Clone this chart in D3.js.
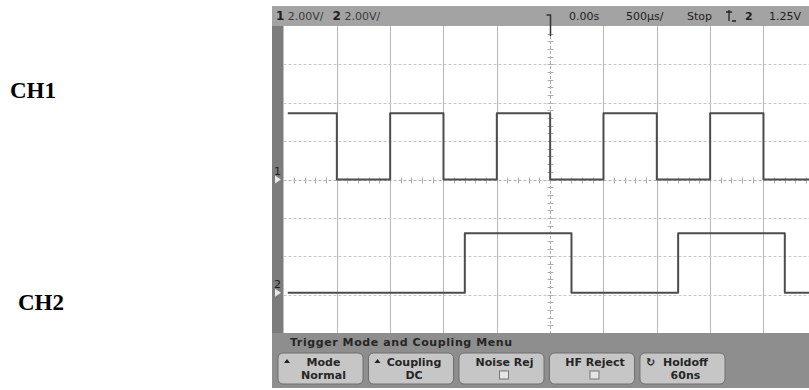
<!DOCTYPE html>
<meta charset="utf-8" />
<title>Trigger Mode and Coupling</title>
<style>
  body { margin: 0; background: #fff; }
  svg { display: block; }
  .chlabel { font-family: "Liberation Serif", serif; font-weight: bold; font-size: 23px; fill: #000; }
  .scope { font-family: "DejaVu Sans", sans-serif; font-size: 11px; fill: #1e1e1e; }
  .btn { font-family: "DejaVu Sans", sans-serif; font-size: 11px; font-weight: bold; fill: #262626; }
  .grid-v { stroke: #b8b8b8; stroke-width: 1; }
  .grid-h { stroke: #c8c8c8; stroke-width: 1; stroke-dasharray: 3,2; }
  .trace { fill: none; stroke: #4c4c4c; stroke-width: 2; stroke-linejoin: round; }
</style>

<body>
  <svg width="809" height="390"></svg>

  <script src="https://d3js.org/d3.v7.min.js"></script>
  <script>
    const svg = d3.select("svg");

    // waveform data, time in ms (500us/div), volts (2V/div)
    const ch1Times = [-2.46, -2.0, -1.5, -1.0, -0.5, 0.0, 0.5, 1.0, 1.5, 2.0, 2.5];
    const ch1Volts = [3.45, 0, 3.45, 0, 3.45, 0, 3.45, 0, 3.45, 0];
    const ch2Times = [-2.46, -0.8, 0.2, 1.2, 2.2, 2.5];
    const ch2Volts = [0, 3.1, 0, 3.1, 0];

    // channel ground offsets in divisions
    const channels = [
      { name: "CH1", times: ch1Times, volts: ch1Volts, offset: 0.0 },
      { name: "CH2", times: ch2Times, volts: ch2Volts, offset: -2.95 }
    ];
    const voltsPerDiv = 2;

    const statusLeft = [["1", " 2.00V/"], ["2", " 2.00V/"]];
    const menuTitle = "Trigger Mode and Coupling Menu";
    const buttons = [
      { top: "Mode", bottom: "Normal", icon: "up" },
      { top: "Coupling", bottom: "DC", icon: "up" },
      { top: "Noise Rej", bottom: "", icon: "box" },
      { top: "HF Reject", bottom: "", icon: "box" },
      { top: "Holdoff", bottom: "60ns", icon: "cycle" }
    ];

    // screen geometry
    const gl = 283.5, gt = 26, divW = 53.33, divH = 38.375;
    const x = d3.scaleLinear().domain([-2.5, 2.5]).range([gl, gl + 10 * divW]);
    const y = d3.scaleLinear().domain([-4, 4]).range([gt + 8 * divH, gt]);

    // outer labels
    svg.append("text").attr("class", "chlabel").attr("x", 10).attr("y", 98).text("CH1");
    svg.append("text").attr("class", "chlabel").attr("x", 18).attr("y", 310).text("CH2");

    // bezel pieces
    svg.append("rect").attr("x", 272).attr("y", 6).attr("width", 540).attr("height", 20).attr("fill", "#a3a3a3");
    svg.append("rect").attr("x", 272).attr("y", 26).attr("width", 12).attr("height", 307).attr("fill", "#7c7c7c");
    svg.append("rect").attr("x", 272).attr("y", 333).attr("width", 540).attr("height", 55).attr("fill", "#8e8e8e");
    svg.append("rect").attr("x", gl).attr("y", gt).attr("width", 10 * divW).attr("height", 8 * divH).attr("fill", "#fff");

    // grid
    const grid = svg.append("g");
    grid.selectAll("line.grid-v")
      .data(x.ticks(10).filter(d => d > -2.5 && d < 2.5 && d !== 0))
      .enter().append("line")
      .attr("class", "grid-v")
      .attr("x1", d => Math.round(x(d)) + 0.5).attr("x2", d => Math.round(x(d)) + 0.5)
      .attr("y1", gt).attr("y2", gt + 8 * divH);
    grid.selectAll("line.grid-h")
      .data(y.ticks(8).filter(d => d > -4 && d < 4 && d !== 0))
      .enter().append("line")
      .attr("class", "grid-h")
      .attr("x1", gl).attr("x2", 809)
      .attr("y1", d => Math.round(y(d)) + 0.5).attr("y2", d => Math.round(y(d)) + 0.5);

    // centre axes with minor ticks
    const cx = Math.round(x(0)) + 0.5, cy = Math.round(y(0)) + 0.5;
    grid.append("line").attr("x1", cx).attr("x2", cx).attr("y1", gt).attr("y2", gt + 8 * divH)
      .attr("stroke", "#b0b0b0").attr("stroke-dasharray", "3,2");
    grid.append("line").attr("x1", gl).attr("x2", 809).attr("y1", cy).attr("y2", cy)
      .attr("stroke", "#b0b0b0").attr("stroke-dasharray", "3,2");
    grid.selectAll("line.mx")
      .data(x.ticks(50).filter(d => Math.abs(d) < 2.5))
      .enter().append("line")
      .attr("x1", d => Math.round(x(d)) + 0.5).attr("x2", d => Math.round(x(d)) + 0.5)
      .attr("y1", cy - 3).attr("y2", cy + 3)
      .attr("stroke", "#b0b0b0");
    grid.selectAll("line.my")
      .data(y.ticks(40).filter(d => Math.abs(d) < 4))
      .enter().append("line")
      .attr("x1", cx - 3).attr("x2", cx + 3)
      .attr("y1", d => Math.round(y(d)) + 0.5).attr("y2", d => Math.round(y(d)) + 0.5)
      .attr("stroke", "#b0b0b0");

    // traces
    svg.append("clipPath").attr("id", "scr")
      .append("rect").attr("x", gl).attr("y", gt).attr("width", 809 - gl).attr("height", 8 * divH);
    const line = d3.line().x(d => x(d.t)).y(d => y(d.v)).curve(d3.curveStepAfter);
    channels.forEach(ch => {
      const pts = ch.volts.map((v, i) => ({ t: ch.times[i], v: v / voltsPerDiv + ch.offset }));
      pts.push({ t: ch.times[ch.times.length - 1], v: ch.volts[ch.volts.length - 1] / voltsPerDiv + ch.offset });
      svg.append("path").attr("class", "trace").attr("clip-path", "url(#scr)").attr("d", line(pts));
    });

    // ground markers on left strip
    channels.forEach((ch, i) => {
      const gy = y(ch.offset);
      svg.append("path")
        .attr("d", `M275,${gy - 4}L281,${gy}L275,${gy + 4}Z`)
        .attr("fill", "#e8e8e8");
      svg.append("text").attr("class", "scope").attr("x", 274).attr("y", gy - 5)
        .attr("font-size", 8).attr("fill", "#eee").text(String(i + 1));
    });

    // status bar
    const sb = svg.append("text").attr("class", "scope").attr("x", 276).attr("y", 20);
    statusLeft.forEach((s, i) => {
      sb.append("tspan").attr("font-weight", "bold").attr("font-size", 12).attr("dx", i ? 9 : 0).text(s[0]);
      sb.append("tspan").attr("fill", "#3a3a3a").text(s[1]);
    });
    // trigger position marker
    svg.append("path").attr("d", `M${cx - 4},15H${cx}V36`).attr("stroke", "#333").attr("stroke-width", 1.5).attr("fill", "none");
    svg.append("text").attr("class", "scope").attr("x", 569).attr("y", 20).text("0.00s");
    svg.append("text").attr("class", "scope").attr("x", 626).attr("y", 20).attr("fill", "#3a3a3a").text("500µs/");
    svg.append("text").attr("class", "scope").attr("x", 687).attr("y", 20).text("Stop");
    svg.append("path").attr("d", "M729,10V21M726,12H732M732,21H736").attr("stroke", "#222").attr("stroke-width", 1.3).attr("fill", "none");
    svg.append("text").attr("class", "scope").attr("x", 745).attr("y", 20).attr("font-weight", "bold").attr("font-size", 12).text("2");
    svg.append("text").attr("class", "scope").attr("x", 769).attr("y", 20).attr("fill", "#3a3a3a").text("1.25V");

    // menu
    svg.append("text").attr("class", "btn").attr("x", 290).attr("y", 346).attr("font-size", 12)
      .attr("textLength", 222).text(menuTitle);
    const bx = d3.scaleBand().domain(d3.range(buttons.length)).range([278, 725]).paddingInner(0.06);
    const bg = svg.selectAll("g.button").data(buttons).enter().append("g")
      .attr("class", "button")
      .attr("transform", (d, i) => `translate(${bx(i)},353)`);
    bg.append("rect").attr("width", bx.bandwidth()).attr("height", 31).attr("rx", 5)
      .attr("fill", "#c6c6c6").attr("stroke", "#6e6e6e");
    bg.append("text").attr("class", "btn").attr("x", bx.bandwidth() / 2 + 3).attr("y", 13)
      .attr("text-anchor", "middle").text(d => d.top);
    bg.append("text").attr("class", "btn").attr("x", bx.bandwidth() / 2 + 3).attr("y", 26)
      .attr("text-anchor", "middle").text(d => d.bottom);
    bg.filter(d => d.icon === "up").append("path")
      .attr("d", "M6,10L9,6L12,10Z").attr("fill", "#222");
    bg.filter(d => d.icon === "box").append("rect")
      .attr("x", bx.bandwidth() / 2 - 2).attr("y", 18).attr("width", 9).attr("height", 8)
      .attr("fill", "#e6e6e6").attr("stroke", "#777");
    bg.filter(d => d.icon === "cycle").append("text").attr("class", "btn")
      .attr("x", 6).attr("y", 13).attr("font-size", 12).text("↻");
  </script>
</body>
